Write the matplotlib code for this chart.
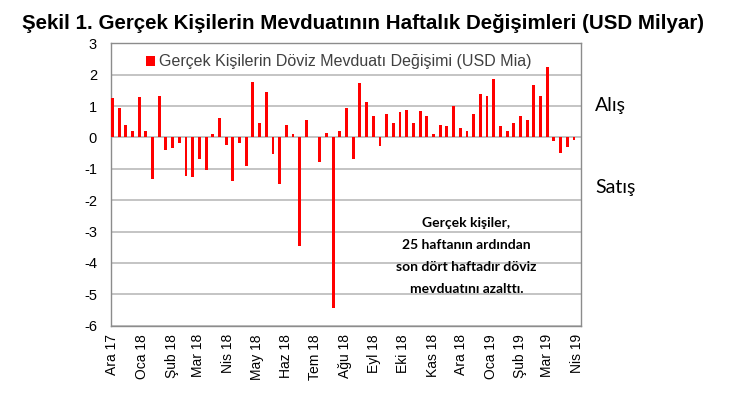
import matplotlib
matplotlib.use('Agg')
import matplotlib.pyplot as plt
import pandas as pd

plt.rcParams['font.family'] = ['Liberation Sans', 'DejaVu Sans']
plt.rcParams['axes.unicode_minus'] = False

# haftalik degisim (USD milyar), 01.12.2017'den itibaren cuma gunleri
weekly_change = [
    1.25, 0.94, 0.41, 0.19, 1.29, 0.19, -1.33, 1.33, -0.39, -0.35,
    -0.19, -1.22, -1.26, -0.69, -1.03, 0.11, 0.61, -0.23, -1.38, -0.19,
    -0.92, 1.78, 0.46, 1.45, -0.53, -1.48, 0.41, 0.12, -3.45, 0.54,
    0.03, -0.77, 0.15, -5.45, 0.19, 0.94, -0.69, 1.75, 1.14, 0.69,
    -0.28, 0.75, 0.46, 0.80, 0.87, 0.46, 0.85, 0.69, 0.12, 0.41,
    0.38, 0.99, 0.31, 0.19, 0.76, 1.38, 1.33, 1.86, 0.38, 0.19,
    0.46, 0.69, 0.57, 1.68, 1.33, 2.24, -0.12, -0.50, -0.31, -0.08,
]
weeks = pd.date_range('2017-12-01', periods=len(weekly_change), freq='7D')

month_labels = ['Ara 17', 'Oca 18', 'Şub 18', 'Mar 18', 'Nis 18', 'May 18',
                'Haz 18', 'Tem 18', 'Ağu 18', 'Eyl 18', 'Eki 18', 'Kas 18',
                'Ara 18', 'Oca 19', 'Şub 19', 'Mar 19', 'Nis 19']
month_ticks = pd.date_range('2017-12-01', periods=len(month_labels), freq='MS')

series_name = 'Gerçek Kişilerin Döviz Mevduatı Değişimi (USD Mia)'
note = 'Gerçek kişiler,\n25 haftanın ardından\nson dört haftadır döviz\nmevduatını azalttı.'

fig = plt.figure(figsize=(7.56, 3.97), dpi=100)
ax = fig.add_axes([0.1468, 0.1796, 0.6213, 0.7113])

ax.bar(weeks, weekly_change, width=3.0, color='#FF0000', label=series_name, zorder=3)

ax.set_ylim(-6, 3)
ax.set_yticks(range(-6, 4))
ax.set_xlim(pd.Timestamp('2017-11-29 12:00'), pd.Timestamp('2019-04-05'))
ax.set_xticks(month_ticks)
ax.set_xticklabels(month_labels, rotation=90, fontsize=10)
ax.tick_params(axis='y', labelsize=10.5, length=0, pad=10)
ax.tick_params(axis='x', length=0, pad=6)

ax.grid(axis='y', color='#BFBFBF', linewidth=1.3, zorder=0)
for s in ax.spines.values():
    s.set_color('#8C8C8C')
    s.set_linewidth(1.0)

ax.legend(loc='upper left', bbox_to_anchor=(0.05, 1.0), frameon=False,
          fontsize=11.5, handlelength=0.6, handleheight=0.6, handletextpad=0.25,
          labelcolor='#404040', borderaxespad=0.3)

fig.text(0.48, 0.926, 'Şekil 1. Gerçek Kişilerin Mevduatının Haftalık Değişimleri (USD Milyar)',
         ha='center', va='baseline', fontsize=14.8, fontweight='bold')

ax.text(0.757, 0.247, note, transform=ax.transAxes, ha='center', va='center',
        fontsize=10, fontweight='bold', family=['Lato', 'DejaVu Sans'], linespacing=2.0)

fig.text(0.787, 0.735, 'Alış', ha='left', va='center', fontsize=14, family=['Lato', 'DejaVu Sans'])
fig.text(0.787, 0.528, 'Satış', ha='left', va='center', fontsize=14, family=['Lato', 'DejaVu Sans'])

fig.savefig('out.png', dpi=100)
